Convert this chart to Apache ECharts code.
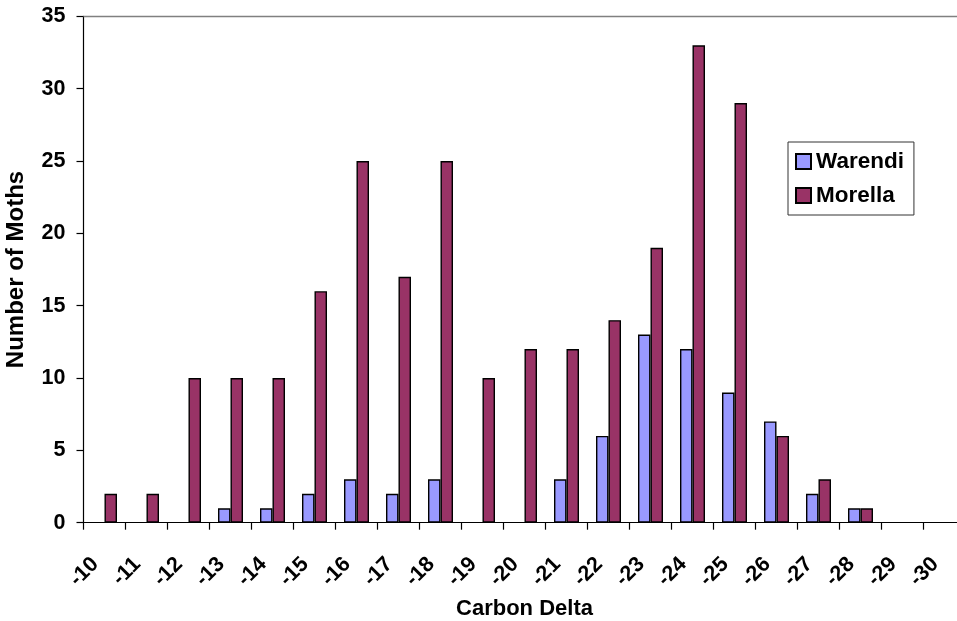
<!DOCTYPE html>
<html>
<head>
<meta charset="utf-8">
<script src="https://cdn.jsdelivr.net/npm/echarts@6/dist/echarts.min.js"></script>
<style>
  html, body { margin: 0; padding: 0; background: #ffffff; }
  #chart { width: 957px; height: 621px; }
</style>
</head>
<body>
<div id="chart"></div>
<script>
// Carbon delta bins and moth counts per population
const categories = ['-10', '-11', '-12', '-13', '-14', '-15', '-16', '-17', '-18', '-19', '-20',
                    '-21', '-22', '-23', '-24', '-25', '-26', '-27', '-28', '-29', '-30'];
const warendi = [0, 0, 0, 1, 1, 2, 3, 2, 3, 0, 0, 3, 6, 13, 12, 9, 7, 2, 1, 0, 0];
const morella = [2, 2, 10, 10, 10, 16, 25, 17, 25, 10, 12, 12, 14, 19, 33, 29, 6, 3, 1, 0, 0];
const yTicks = { min: 0, max: 35, step: 5 };

const FONT = "'Liberation Sans', Arial, sans-serif";

// empty bins get no bar outline on the axis
const asBars = (values) => values.map(v => (v === 0 ? null : v));

const chart = echarts.init(document.getElementById('chart'), null, { renderer: 'canvas' });

chart.setOption({
  animation: false,
  backgroundColor: '#ffffff',
  textStyle: { fontFamily: FONT },
  grid: {
    left: 83.5,
    right: -8.5,
    top: 16.3,
    bottom: 98.3,
    containLabel: false,
    outerBoundsMode: 'none'
  },
  legend: {
    orient: 'vertical',
    left: 788,
    top: 142,
    padding: [8, 10, 8, 7],
    itemGap: 11,
    itemWidth: 15,
    itemHeight: 15,
    icon: 'rect',
    borderColor: '#333333',
    borderWidth: 1,
    backgroundColor: '#ffffff',
    textStyle: { fontFamily: FONT, fontWeight: 'bold', fontSize: 22.5, color: '#000000' },
    data: ['Warendi', 'Morella']
  },
  xAxis: {
    type: 'category',
    data: categories,
    boundaryGap: true,
    name: 'Carbon Delta',
    nameLocation: 'middle',
    nameGap: 75,
    nameTextStyle: { fontFamily: FONT, fontWeight: 'bold', fontSize: 22, color: '#000000' },
    axisLine: { show: true, lineStyle: { color: '#000000', width: 1.2 } },
    axisTick: { show: true, length: 7, lineStyle: { color: '#000000', width: 1.2 } },
    axisLabel: {
      rotate: 45,
      margin: 29,
      padding: [0, 13, 0, 0],
      interval: 0,
      fontFamily: FONT,
      fontWeight: 'bold',
      fontSize: 21.5,
      color: '#000000'
    },
    splitLine: { show: false }
  },
  yAxis: {
    type: 'value',
    min: yTicks.min,
    max: yTicks.max,
    interval: yTicks.step,
    name: 'Number of Moths',
    nameLocation: 'middle',
    nameGap: 55,
    nameRotate: 90,
    nameTextStyle: { fontFamily: FONT, fontWeight: 'bold', fontSize: 24, color: '#000000' },
    axisLine: { show: true, lineStyle: { color: '#000000', width: 1.2 } },
    axisTick: { show: true, inside: false, length: 7, lineStyle: { color: '#000000', width: 1.2 } },
    axisLabel: {
      margin: 18,
      fontFamily: FONT,
      fontWeight: 'bold',
      fontSize: 21.5,
      color: '#000000'
    },
    splitLine: { show: false }
  },
  series: [
    {
      name: 'Warendi',
      type: 'bar',
      data: asBars(warendi),
      barWidth: 12.5,
      barGap: '0%',
      itemStyle: { color: '#9999FF', borderColor: '#000000', borderWidth: 1.4 }
    },
    {
      name: 'Morella',
      type: 'bar',
      data: asBars(morella),
      barWidth: 12.5,
      barGap: '0%',
      itemStyle: { color: '#993366', borderColor: '#000000', borderWidth: 1.4 },
      markLine: {
        silent: true,
        symbol: 'none',
        label: { show: false },
        lineStyle: { color: '#808080', width: 1.4, type: 'solid' },
        data: [{ yAxis: yTicks.max }]
      }
    }
  ]
});
</script>
</body>
</html>
